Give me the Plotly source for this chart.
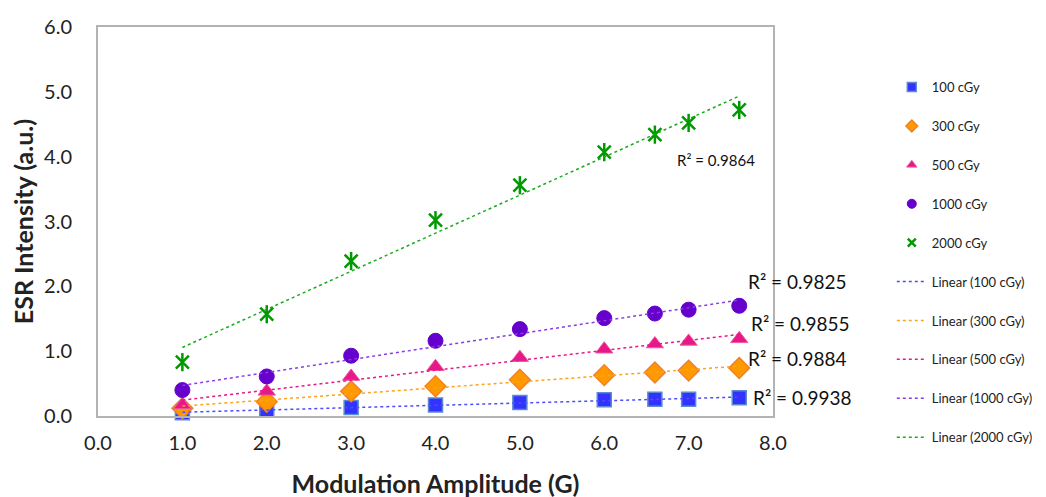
import numpy as np
import plotly.graph_objects as go

# modulation amplitude (G)
amplitude = [1.0, 2.0, 3.0, 4.0, 5.0, 6.0, 6.6, 7.0, 7.6]

# ESR intensity (a.u.) per dose
esr_100 = [0.05, 0.09, 0.13, 0.17, 0.21, 0.25, 0.26, 0.26, 0.28]
esr_300 = [0.12, 0.22, 0.38, 0.46, 0.56, 0.63, 0.67, 0.70, 0.74]
esr_500 = [0.17, 0.38, 0.61, 0.76, 0.90, 1.03, 1.11, 1.15, 1.19]
esr_1000 = [0.40, 0.61, 0.93, 1.16, 1.34, 1.51, 1.58, 1.64, 1.70]
esr_2000 = [0.83, 1.57, 2.39, 3.02, 3.56, 4.07, 4.34, 4.52, 4.72]

doses = ["100 cGy", "300 cGy", "500 cGy", "1000 cGy", "2000 cGy"]
r2_labels = ["R² = 0.9938", "R² = 0.9884", "R² = 0.9855", "R² = 0.9825", "R² = 0.9864"]

FONT = "Lato"
GREEN = "#009900"

series = [esr_100, esr_300, esr_500, esr_1000, esr_2000]
styles = [
    dict(symbol="square", size=14, color="#3333ff", line=dict(color="#5b8bd0", width=1.5)),
    dict(symbol="diamond", size=16, color="#ff9900", line=dict(color="#f0822a", width=1.5)),
    dict(symbol="triangle-up", size=15, color="#e6188a", line=dict(color="#f0589c", width=1)),
    dict(symbol="circle", size=15, color="#6600cc", line=dict(color="#6600cc", width=1)),
    dict(symbol="x-thin-open", size=13, color=GREEN, line=dict(color=GREEN, width=2.5)),
]
trend_colors = ["#4d4dff", "#ffa31a", "#e6188a", "#8a3de6", "#1aad1a"]

fig = go.Figure()
for i, (name, y) in enumerate(zip(doses, series)):
    fig.add_trace(go.Scatter(
        x=amplitude, y=y, mode="markers", name=name,
        marker=styles[i], showlegend=False, cliponaxis=False,
    ))
    if i == 4:
        # vertical stroke turns the x into an Excel-style star
        fig.add_trace(go.Scatter(
            x=amplitude, y=y, mode="markers", showlegend=False, cliponaxis=False,
            marker=dict(symbol="line-ns-open", size=13, color=GREEN,
                        line=dict(color=GREEN, width=2.5)),
        ))

# small legend markers (legend-only copies)
for i, name in enumerate(doses):
    st = dict(styles[i])
    st["size"] = 9 if i < 4 else 8
    fig.add_trace(go.Scatter(
        x=[None], y=[None], mode="markers", name=name, marker=st,
        legendgroup=f"m{i}",
    ))

x = np.array(amplitude)
for i, (name, y) in enumerate(zip(doses, series)):
    a, b = np.polyfit(x, np.array(y), 1)
    xs = np.array([x.min(), x.max()])
    fig.add_trace(go.Scatter(
        x=xs, y=a * xs + b, mode="lines", name=f"Linear ({name})",
        line=dict(color=trend_colors[i], width=1.5, dash="dot"),
        legendgroup=f"t{i}",
    ))

# R² labels (paper coords, right of plot for first four)
r2_pos = [(1.0444, 0.0463), (1.0363, 0.149), (1.040, 0.239), (1.0356, 0.3445)]
for txt, (px, py) in zip(r2_labels[:4], r2_pos):
    fig.add_annotation(
        x=px, y=py, text=txt, showarrow=False, xref="paper", yref="paper",
        xanchor="center", yanchor="middle",
        font=dict(family=FONT, size=19, color="#111111"),
    )
fig.add_annotation(
    x=7.33, y=3.95, text=r2_labels[4], showarrow=False, xref="x", yref="y",
    xanchor="center", yanchor="middle",
    font=dict(family=FONT, size=15, color="#111111"),
)

axis_common = dict(
    showline=True, linecolor="#b3b3b3", linewidth=2, mirror=True,
    showgrid=False, zeroline=False, ticks="", automargin=False,
    tickfont=dict(family=FONT, size=20, color="#222222"),
)

# page body has an 8px margin, so plot box is offset accordingly
fig.update_layout(
    width=1046, height=497,
    margin=dict(l=90, r=281, t=19, b=89, autoexpand=False),
    paper_bgcolor="white", plot_bgcolor="white",
    font=dict(family=FONT, color="#222222"),
    xaxis=dict(
        range=[0, 8], dtick=1, tickformat=".1f", ticklabelstandoff=8,
        title=dict(text="<b>Modulation Amplitude (G)</b>", font=dict(family=FONT, size=25), standoff=22),
        **axis_common,
    ),
    yaxis=dict(
        range=[0, 6], dtick=1, tickformat=".1f", ticklabelstandoff=20,
        title=dict(text="<b>ESR Intensity (a.u.)</b>", font=dict(family=FONT, size=25), standoff=12),
        **axis_common,
    ),
    legend=dict(
        x=1.176, y=0.884, xanchor="left", yanchor="top",
        font=dict(family=FONT, size=13, color="#222222"),
        tracegroupgap=19, bgcolor="rgba(0,0,0,0)",
    ),
)

fig.write_html("out.html")
